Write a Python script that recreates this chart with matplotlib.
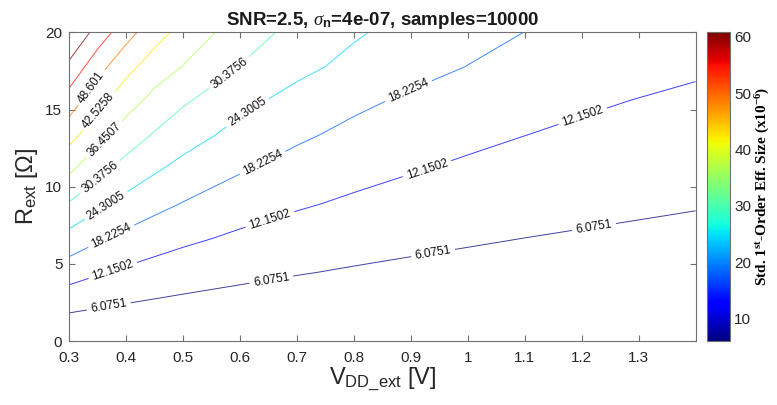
from pathlib import Path
import matplotlib
matplotlib.use("Agg")
import matplotlib.pyplot as plt
import numpy as np
from matplotlib.colors import Normalize
from matplotlib.cm import ScalarMappable
from matplotlib.ticker import FuncFormatter

#CONFIGURACION

OUTPUT_PATH = Path("out.png")

#rejilla de la simulación
V_VALUES = [0.3, 0.35, 0.4, 0.45, 0.5, 0.6, 0.7, 0.8, 0.9, 1.0, 1.1, 1.2, 1.3, 1.4]
R_VALUES = [0, 2.2222, 4.4444, 6.6667, 8.8889, 11.1111, 13.3333, 15.5556, 17.7778, 20]

#una fila por cada valor de R, una columna por cada valor de V
Z_TABLE = [
    [0, 0, 0, 0, 0, 0, 0, 0, 0, 0, 0, 0, 0, 0],
    [7.41, 6.35, 5.56, 4.94, 4.44, 3.70, 3.17, 2.78, 2.47, 2.22, 2.02, 1.85, 1.71, 1.59],
    [14.81, 12.70, 11.11, 9.88, 8.89, 7.41, 6.35, 5.56, 4.94, 4.44, 4.04, 3.70, 3.42, 3.17],
    [22.22, 19.05, 16.67, 14.81, 13.33, 11.11, 9.52, 8.33, 7.41, 6.67, 6.06, 5.56, 5.13, 4.76],
    [29.93, 25.65, 22.44, 19.95, 17.96, 14.96, 12.83, 11.22, 9.98, 8.98, 8.16, 7.48, 6.91, 6.41],
    [37.41, 32.06, 28.06, 24.94, 22.44, 18.70, 16.03, 14.03, 12.47, 11.22, 10.20, 9.35, 8.63, 8.02],
    [44.67, 38.29, 33.50, 29.78, 26.80, 22.33, 19.14, 16.75, 14.89, 13.40, 12.18, 11.17, 10.31, 9.57],
    [51.85, 44.44, 38.89, 34.57, 31.11, 25.93, 22.22, 19.44, 17.28, 15.56, 14.14, 12.96, 11.97, 11.11],
    [59.26, 50.79, 44.44, 39.51, 36.27, 30.22, 25.90, 22.67, 20.15, 18.13, 16.48, 15.11, 13.95, 12.95],
    [67.00, 58.30, 50.80, 45.00, 40.50, 33.33, 28.57, 25.00, 22.22, 20.00, 18.18, 16.67, 15.38, 14.29],
]

#niveles de contorno y sus etiquetas
LEVELS = [6.0751, 12.1502, 18.2254, 24.3005, 30.3756, 36.4507, 42.5258, 48.601, 54.676, 60.751]
LABELED_LEVELS = ["6.0751", "12.1502", "18.2254", "24.3005", "30.3756", "36.4507", "42.5258", "48.601"]

X_TICKS = [0.3, 0.4, 0.5, 0.6, 0.7, 0.8, 0.9, 1.0, 1.1, 1.2, 1.3]
Y_TICKS = [0, 5, 10, 15, 20]
CBAR_TICKS = [10, 20, 30, 40, 50, 60]

#donde van las etiquetas de los contornos
LABEL_SPOTS = [
    (0.37, 2.1), (0.655, 3.95), (0.939, 5.68), (1.222, 7.3),
    (0.377, 4.49), (0.652, 7.95), (0.927, 11.3), (1.199, 14.86),
    (0.377, 6.55), (0.634, 11.94), (0.895, 16.27),
    (0.366, 8.7), (0.614, 14.76),
    (0.354, 10.65), (0.582, 17.35),
    (0.363, 13.03),
    (0.354, 14.86),
    (0.345, 16.27),
]

TITLE = r"SNR=2.5, $\sigma_{\mathsf{n}}$=4e-07, samples=10000"
X_LABEL = r"V$_{\mathrm{DD\_ext}}$ [V]"
Y_LABEL = r"R$_{\mathrm{ext}}$ [Ω]"
CBAR_LABEL = r"Std. 1$^{\mathbf{st}}$-Order Eff. Size (x10$^{\mathbf{-6}}$)"

#FUNCIONES

def setup_fonts() -> None:
    plt.rcParams["font.family"] = ["Liberation Sans", "DejaVu Sans"]
    plt.rcParams["mathtext.fontset"] = "custom"
    plt.rcParams["mathtext.rm"] = "Liberation Sans"
    plt.rcParams["mathtext.it"] = "Liberation Serif:italic"
    plt.rcParams["mathtext.bf"] = "Liberation Serif:bold"
    plt.rcParams["mathtext.sf"] = "Liberation Sans:bold"


def draw_chart() -> None:
    setup_fonts()

    v = np.array(V_VALUES)
    r = np.array(R_VALUES)
    z = np.array(Z_TABLE)

    fig = plt.figure(figsize=(7.77, 4.05), dpi=100)
    ax = fig.add_axes([0.0892, 0.158, 0.806, 0.762])
    cax = fig.add_axes([0.910, 0.158, 0.0296, 0.762])

    #contornos con el mapa jet, líneas finas y algo claras como en el original
    norm = Normalize(vmin=LEVELS[0], vmax=LEVELS[-1])
    cs = ax.contour(v, r, z, levels=LEVELS, cmap="jet", norm=norm,
                    linewidths=0.7, alpha=0.75)

    fmt = {lev: txt for lev, txt in zip(LEVELS, LABELED_LEVELS)}
    fmt.update({lev: "" for lev in LEVELS[len(LABELED_LEVELS):]})
    labels = ax.clabel(cs, levels=LEVELS[:len(LABELED_LEVELS)], fmt=fmt, fontsize=8.6,
                       colors="black", inline=True, inline_spacing=4, manual=LABEL_SPOTS)
    #las etiquetas sin transparencia
    for lbl in labels:
        lbl.set_alpha(1.0)
        lbl.set_color("#111111")

    ax.set_xlim(0.3, 1.4)
    ax.set_ylim(0, 20)
    ax.set_xticks(X_TICKS)
    ax.set_yticks(Y_TICKS)
    ax.xaxis.set_major_formatter(FuncFormatter(lambda val, pos: f"{val:g}"))
    ax.tick_params(direction="in", top=True, right=True, length=4.5, width=0.8,
                   color="#707070", labelsize=11, labelcolor="#262626")
    ax.tick_params(axis="x", pad=7)
    ax.tick_params(axis="y", pad=5)
    for spine in ax.spines.values():
        spine.set_color("#707070")
        spine.set_linewidth(0.8)

    ax.set_title(TITLE, fontsize=13.5, fontweight="bold", color="#1a1a1a", pad=5)
    ax.set_xlabel(X_LABEL, fontsize=17, color="#262626", labelpad=1)
    ax.set_ylabel(Y_LABEL, fontsize=17, color="#262626", labelpad=4)

    #barra de color continua
    sm = ScalarMappable(norm=norm, cmap="jet")
    cbar = fig.colorbar(sm, cax=cax, ticks=CBAR_TICKS)
    cbar.outline.set_edgecolor("#707070")
    cbar.outline.set_linewidth(0.8)
    cax.tick_params(length=0, labelsize=11, labelcolor="#262626", pad=3)
    cbar.set_label(CBAR_LABEL, fontsize=11, fontweight="bold",
                   family="Liberation Serif", labelpad=2)

    fig.savefig(OUTPUT_PATH, dpi=100)
    plt.close(fig)


if __name__ == "__main__":
    draw_chart()
